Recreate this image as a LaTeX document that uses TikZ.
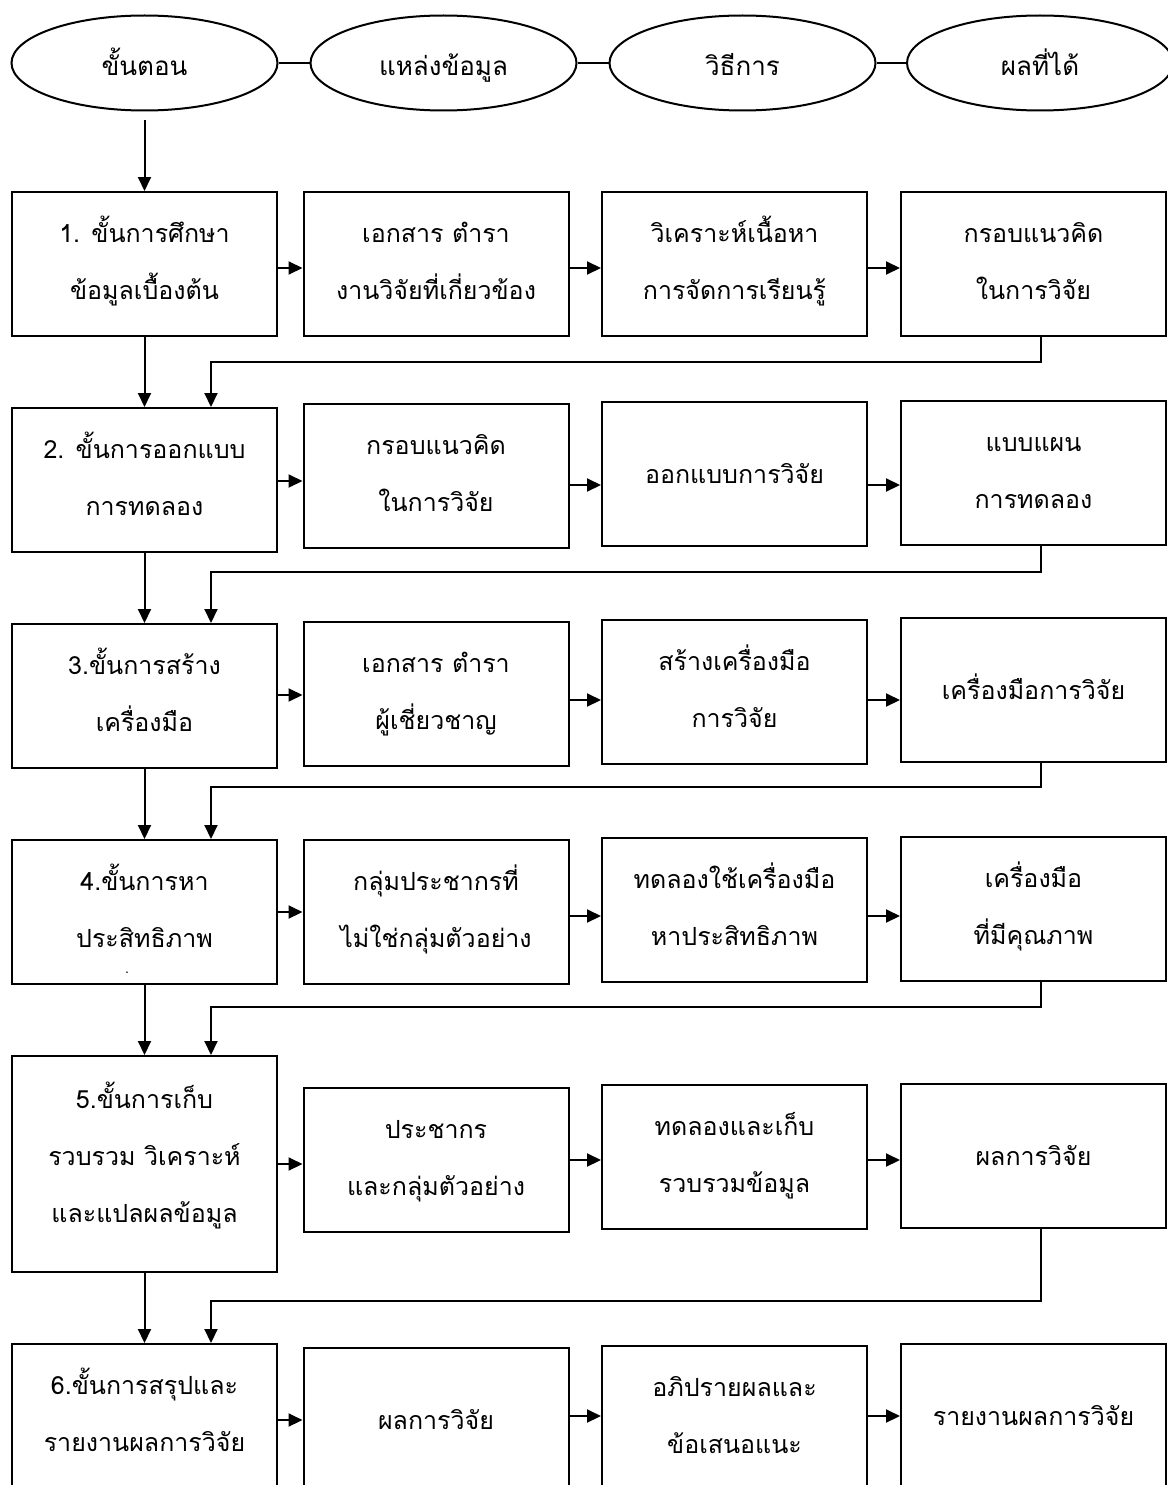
\documentclass[tikz,border=0pt]{standalone}
\usepackage{fontspec}
\newfontfamily\thaifont[Script=Thai]{Loma}
\usetikzlibrary{arrows.meta,shapes.geometric}
\begin{document}
\begin{tikzpicture}[x=1pt,y=-1pt,
  txt/.style={font=\thaifont\fontsize{25}{57}\selectfont, align=center},
  oval/.style={txt, font=\thaifont\fontsize{26}{57}\selectfont, draw, ellipse, line width=2pt, minimum width=266pt, minimum height=95pt, inner sep=0pt, text height=30pt, text depth=4pt},
  box/.style={txt, draw, rectangle, line width=2pt, minimum width=265pt, minimum height=144pt, inner sep=0pt},
  one/.style={box, text height=23pt, text depth=5pt},
  two/.style={box, text height=75pt, text depth=5pt},
  three/.style={box, text height=121pt, text depth=5pt},
  arr/.style={line width=2pt, -{Triangle[length=14pt,width=13pt]}},
  ln/.style={line width=2pt}]
\useasboundingbox (0,0) rectangle (1167,1485);
% header ovals
\node[oval] (e1) at (144.5,63) {ขั้นตอน};
\node[oval] (e2) at (443.5,63) {แหล่งข้อมูล};
\node[oval] (e3) at (742.5,63) {วิธีการ};
\node[oval] (e4) at (1040,63) {ผลที่ได้};
\draw[ln] (e1) -- (e2);
\draw[ln] (e2) -- (e3);
\draw[ln] (e3) -- (e4);
% row 1
\node[two] (r1c1) at (144.5,264) {1. ขั้นการศึกษา\\ข้อมูลเบื้องต้น};
\node[two] (r1c2) at (436,264) {เอกสาร ตำรา\\งานวิจัยที่เกี่ยวข้อง};
\node[two] (r1c3) at (734.5,264) {วิเคราะห์เนื้อหา\\การจัดการเรียนรู้};
\node[two] (r1c4) at (1033.5,264) {กรอบแนวคิด\\ในการวิจัย};
% row 2
\node[two] (r2c1) at (144.5,480) {2. ขั้นการออกแบบ\\การทดลอง};
\node[two] (r2c2) at (436,476) {กรอบแนวคิด\\ในการวิจัย};
\node[one] (r2c3) at (734.5,474) {ออกแบบการวิจัย};
\node[two] (r2c4) at (1033.5,473) {แบบแผน\\การทดลอง};
% row 3
\node[two] (r3c1) at (144.5,696) {3.ขั้นการสร้าง\\เครื่องมือ};
\node[two] (r3c2) at (436,694) {เอกสาร ตำรา\\ผู้เชี่ยวชาญ};
\node[two] (r3c3) at (734.5,692) {สร้างเครื่องมือ\\การวิจัย};
\node[one] (r3c4) at (1033.5,690) {เครื่องมือการวิจัย};
% row 4
\node[two] (r4c1) at (144.5,912) {4.ขั้นการหา\\ประสิทธิภาพ};
\node[font=\thaifont\fontsize{14}{16}\selectfont, inner sep=0pt, anchor=base] (dot4) at (127,973) {.};
\node[two] (r4c2) at (436,912) {กลุ่มประชากรที่\\ไม่ใช่กลุ่มตัวอย่าง};
\node[two] (r4c3) at (734.5,910) {ทดลองใช้เครื่องมือ\\หาประสิทธิภาพ};
\node[two] (r4c4) at (1033.5,909) {เครื่องมือ\\ที่มีคุณภาพ};
% row 5
\node[three, minimum height=216pt] (r5c1) at (144.5,1164) {5.ขั้นการเก็บ\\รวบรวม วิเคราะห์\\และแปลผลข้อมูล};
\node[two] (r5c2) at (436,1160) {ประชากร\\และกลุ่มตัวอย่าง};
\node[two] (r5c3) at (734.5,1157) {ทดลองและเก็บ\\รวบรวมข้อมูล};
\node[one] (r5c4) at (1033.5,1156) {ผลการวิจัย};
% row 6
\node[two] (r6c1) at (144.5,1416) {6.ขั้นการสรุปและ\\รายงานผลการวิจัย};
\node[one] (r6c2) at (436,1420) {ผลการวิจัย};
\node[two] (r6c3) at (734.5,1418) {อภิปรายผลและ\\ข้อเสนอแนะ};
\node[one] (r6c4) at (1033.5,1416) {รายงานผลการวิจัย};
% top arrow
\coordinate (s0) at (144.5,120);
\draw[arr] (s0) -- (r1c1.north);
% vertical arrows col1
\draw[arr] (r1c1) -- (r2c1);
\draw[arr] (r2c1) -- (r3c1);
\draw[arr] (r3c1) -- (r4c1);
\draw[arr] (r4c1) -- (r5c1);
\draw[arr] (r5c1) -- (r6c1);
% horizontal arrows
\draw[arr] (r1c1.east |- 0,268) -- (r1c2.west |- 0,268);
\draw[arr] (r1c2.east |- 0,268) -- (r1c3.west |- 0,268);
\draw[arr] (r1c3.east |- 0,268) -- (r1c4.west |- 0,268);
\draw[arr] (r2c1.east |- 0,481) -- (r2c2.west |- 0,481);
\draw[arr] (r2c2.east |- 0,485) -- (r2c3.west |- 0,485);
\draw[arr] (r2c3.east |- 0,485) -- (r2c4.west |- 0,485);
\draw[arr] (r3c1.east |- 0,695) -- (r3c2.west |- 0,695);
\draw[arr] (r3c2.east |- 0,700) -- (r3c3.west |- 0,700);
\draw[arr] (r3c3.east |- 0,700) -- (r3c4.west |- 0,700);
\draw[arr] (r4c1.east |- 0,912) -- (r4c2.west |- 0,912);
\draw[arr] (r4c2.east |- 0,916) -- (r4c3.west |- 0,916);
\draw[arr] (r4c3.east |- 0,916) -- (r4c4.west |- 0,916);
\draw[arr] (r5c1.east |- 0,1164) -- (r5c2.west |- 0,1164);
\draw[arr] (r5c2.east |- 0,1160) -- (r5c3.west |- 0,1160);
\draw[arr] (r5c3.east |- 0,1160) -- (r5c4.west |- 0,1160);
\draw[arr] (r6c1.east |- 0,1420) -- (r6c2.west |- 0,1420);
\draw[arr] (r6c2.east |- 0,1416) -- (r6c3.west |- 0,1416);
\draw[arr] (r6c3.east |- 0,1416) -- (r6c4.west |- 0,1416);
% feedback connectors
\coordinate (k1) at (211,362);
\coordinate (k2) at (211,572);
\coordinate (k3) at (211,787);
\coordinate (k4) at (211,1007);
\coordinate (k5) at (211,1301);
\draw[arr] (r1c4.south -| 1041,0) |- (k1) -- (k1 |- r2c1.north);
\draw[arr] (r2c4.south -| 1041,0) |- (k2) -- (k2 |- r3c1.north);
\draw[arr] (r3c4.south -| 1041,0) |- (k3) -- (k3 |- r4c1.north);
\draw[arr] (r4c4.south -| 1041,0) |- (k4) -- (k4 |- r5c1.north);
\draw[arr] (r5c4.south -| 1041,0) |- (k5) -- (k5 |- r6c1.north);
\end{tikzpicture}
\end{document}
